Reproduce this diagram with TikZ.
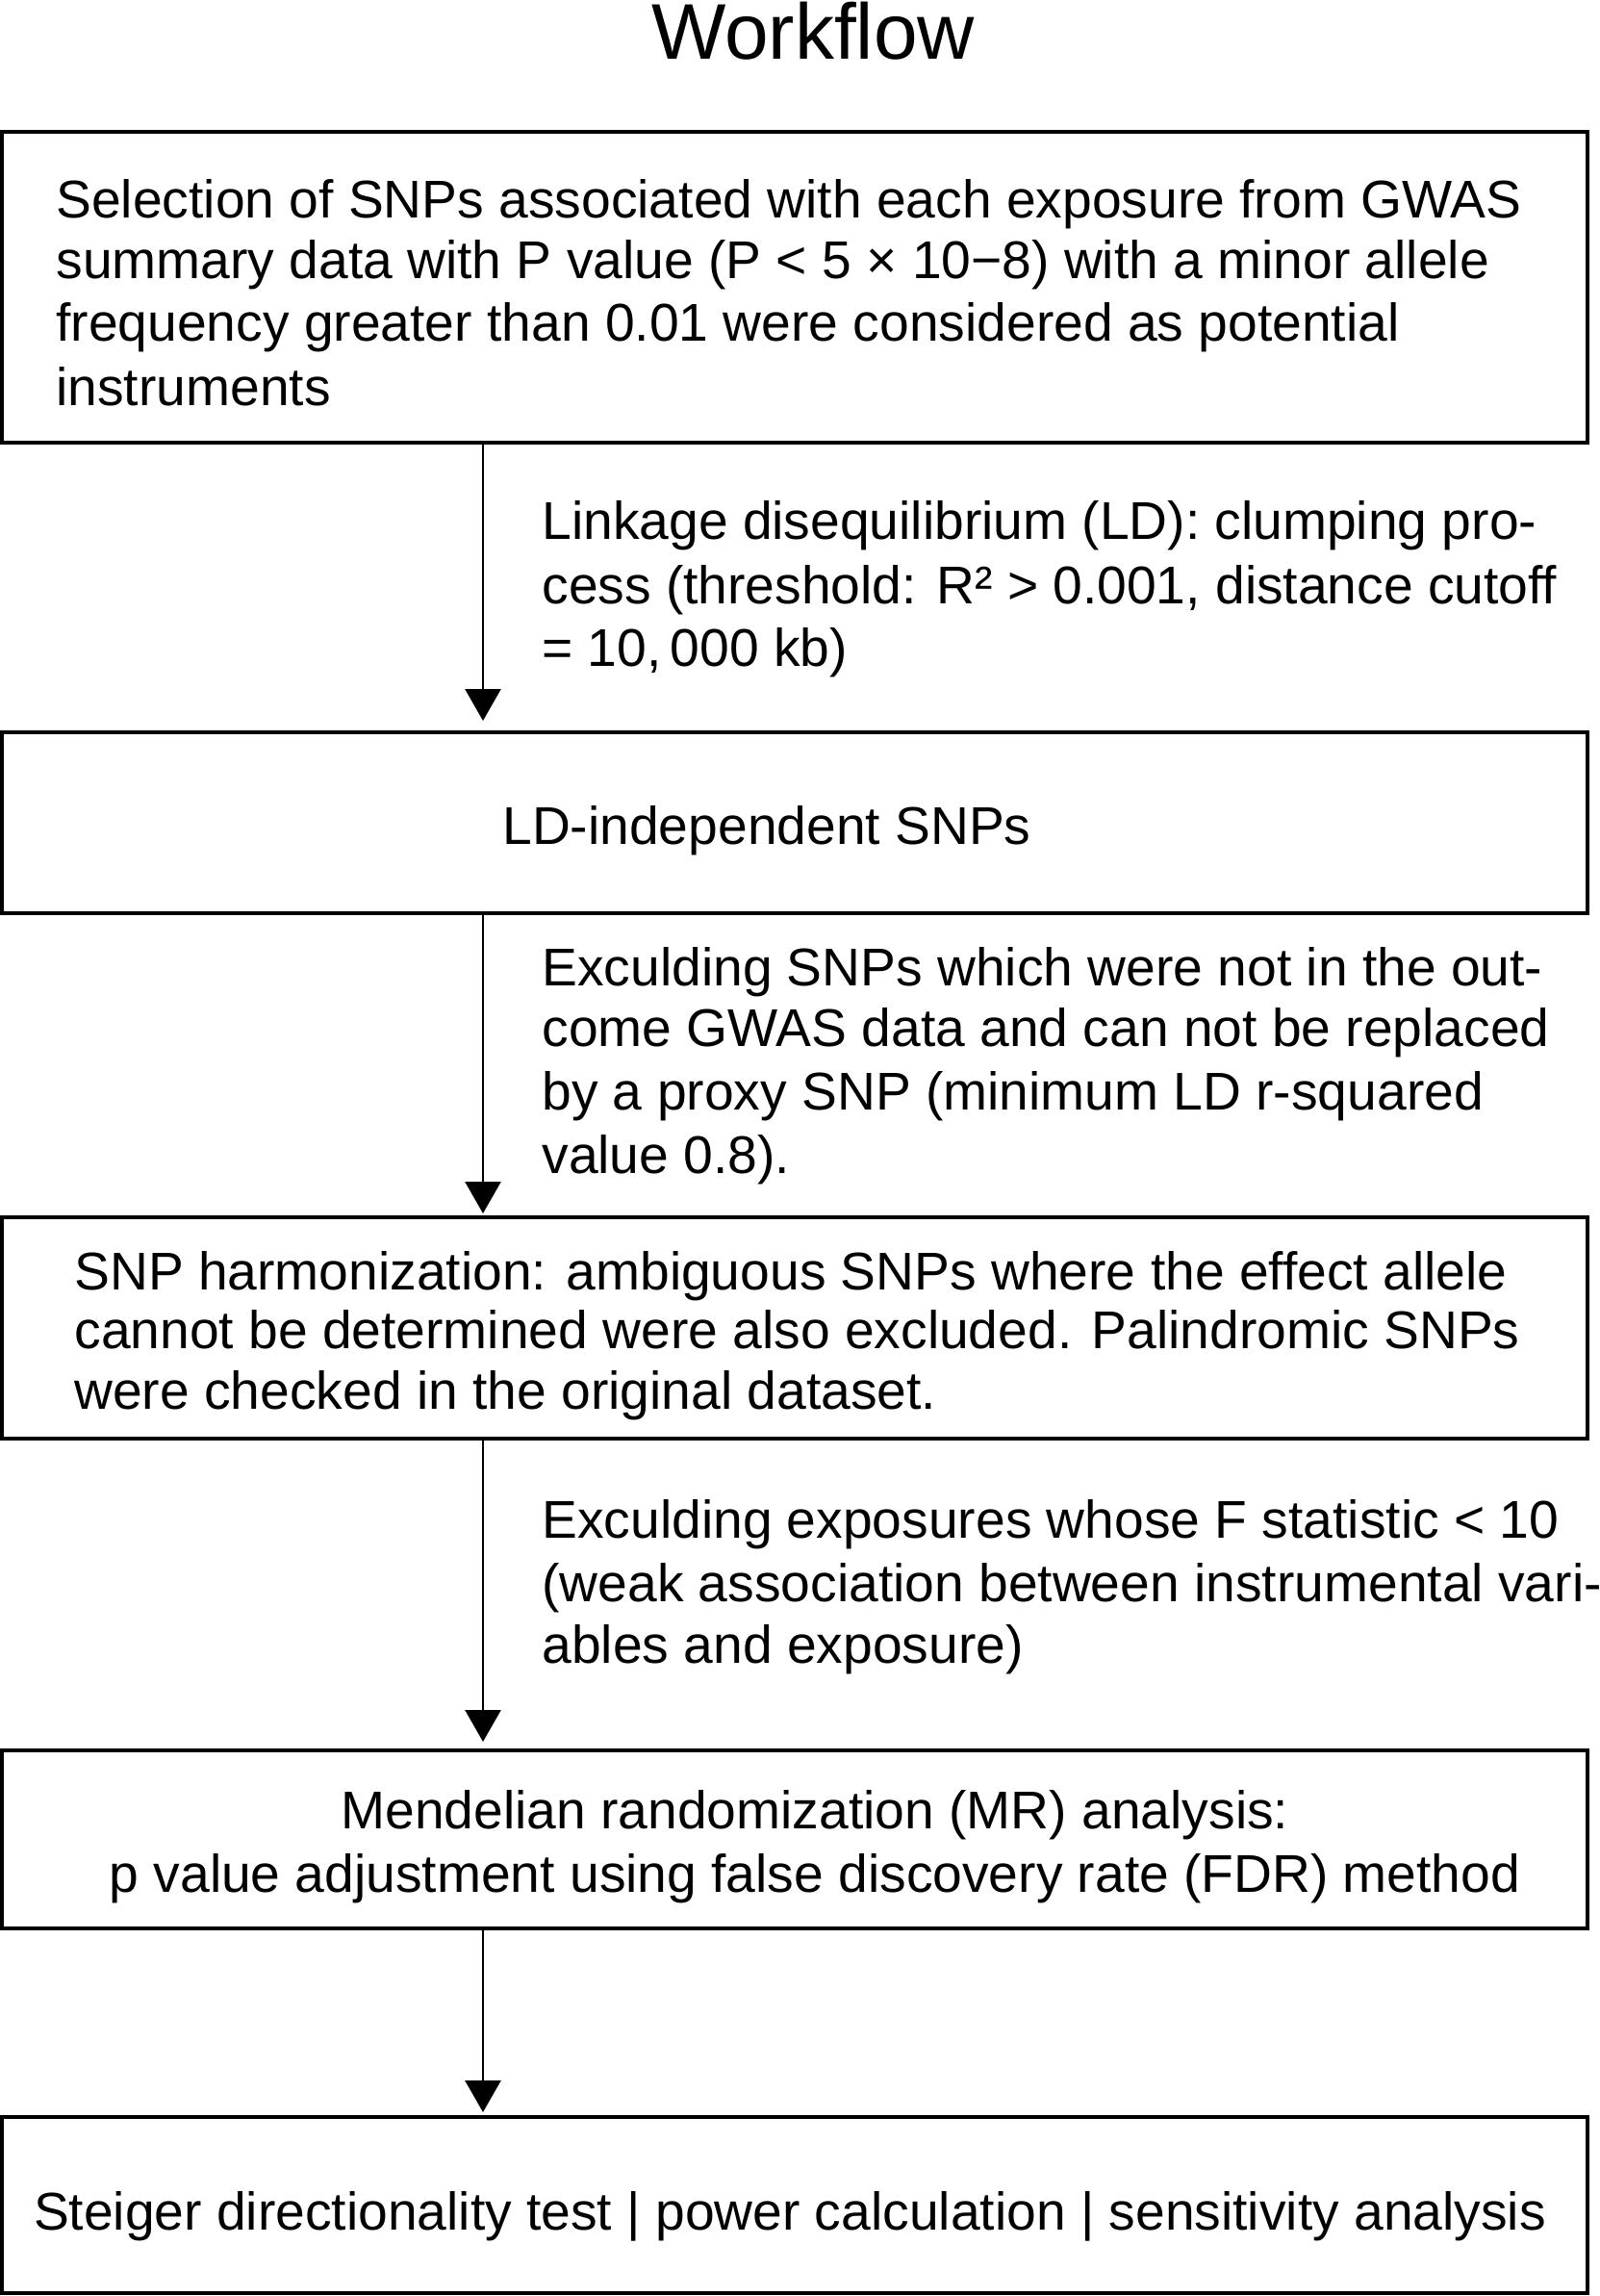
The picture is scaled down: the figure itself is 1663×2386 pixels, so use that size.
\documentclass[tikz,border=0pt]{standalone}
\usepackage{fontspec}
\setmainfont{Liberation Sans}
\usetikzlibrary{arrows.meta}
\begin{document}
\begin{tikzpicture}[x=0.5pt,y=-0.5pt,
  box/.style={draw, line width=2pt, inner sep=0pt, minimum width=824.25pt},
  txt/.style={anchor=base west, inner sep=0pt, font=\fontsize{27.6}{32}\selectfont},
  ctxt/.style={anchor=base, inner sep=0pt, font=\fontsize{27.6}{32}\selectfont},
  flow/.style={-{Triangle[length=16.5pt,width=18.5pt]}, line width=1.4pt}]
\useasboundingbox[fill=white] (0,0) rectangle (1663,2386);

\node[anchor=base, inner sep=0pt, font=\fontsize{41}{46}\selectfont] (title) at (845,62) {Workflow};

\node[box, minimum height=161.5pt] (b1) at (825.75,298.5) {};
\node[box, minimum height=94pt] (b2) at (825.75,855) {};
\node[box, minimum height=115pt] (b3) at (825.75,1380) {};
\node[box, minimum height=92.5pt] (b4) at (825.75,1911.5) {};
\node[box, minimum height=91.5pt] (b5) at (825.75,2291.5) {};

\coordinate (ax) at (502,0);
\draw[flow, shorten >=5pt] (b1.south -| ax) -- (b2.north -| ax);
\draw[flow, shorten >=1pt] (b2.south -| ax) -- (b3.north -| ax);
\draw[flow, shorten >=3.5pt] (b3.south -| ax) -- (b4.north -| ax);
\draw[flow, shorten >=1.5pt] (b4.south -| ax) -- (b5.north -| ax);

% box 1
\node[txt] (t1a) at (58,227) {Selection of SNPs associated with each exposure from GWAS};
\node[txt] (t1b) at (58,290) {summary data with P value (P < 5 × 10−8) with a minor allele};
\node[txt] (t1c) at (58,355) {frequency greater than 0.01 were considered as potential};
\node[txt] (t1d) at (58,422) {instruments};

% label 1
\node[txt] (l1a) at (563,560) {Linkage disequilibrium (LD): clumping pro-};
\node[txt] (l1b) at (563,627) {cess (threshold: R² > 0.001, distance cutoff};
\node[txt] (l1c) at (563,692) {= 10,\,000 kb)};

% box 2
\node[txt] (t2a) at (522,877) {LD-independent SNPs};

% label 2
\node[txt] (l2a) at (563,1024) {Exculding SNPs which were not in the out-};
\node[txt] (l2b) at (563,1087) {come GWAS data and can not be replaced};
\node[txt] (l2c) at (563,1153) {by a proxy SNP (minimum LD r-squared};
\node[txt] (l2d) at (563,1219) {value 0.8).};

% box 3
\node[txt] (t3a) at (77,1340) {SNP harmonization: ambiguous SNPs where the effect allele};
\node[txt] (t3b) at (77,1401) {cannot be determined were also excluded. Palindromic SNPs};
\node[txt] (t3c) at (77,1464) {were checked in the original dataset.};

% label 3
\node[txt] (l3a) at (563,1598) {Exculding exposures whose F statistic < 10};
\node[txt] (l3b) at (563,1664) {(weak association between instrumental vari-};
\node[txt] (l3c) at (563,1728) {ables and exposure)};

% box 4
\node[ctxt] (t4a) at (847,1900) {Mendelian randomization (MR) analysis:};
\node[ctxt] (t4b) at (847,1966) {p value adjustment using false discovery rate (FDR) method};

% box 5
\node[ctxt] (t5a) at (821,2317) {Steiger directionality test | power calculation | sensitivity analysis};
\end{tikzpicture}
\end{document}
